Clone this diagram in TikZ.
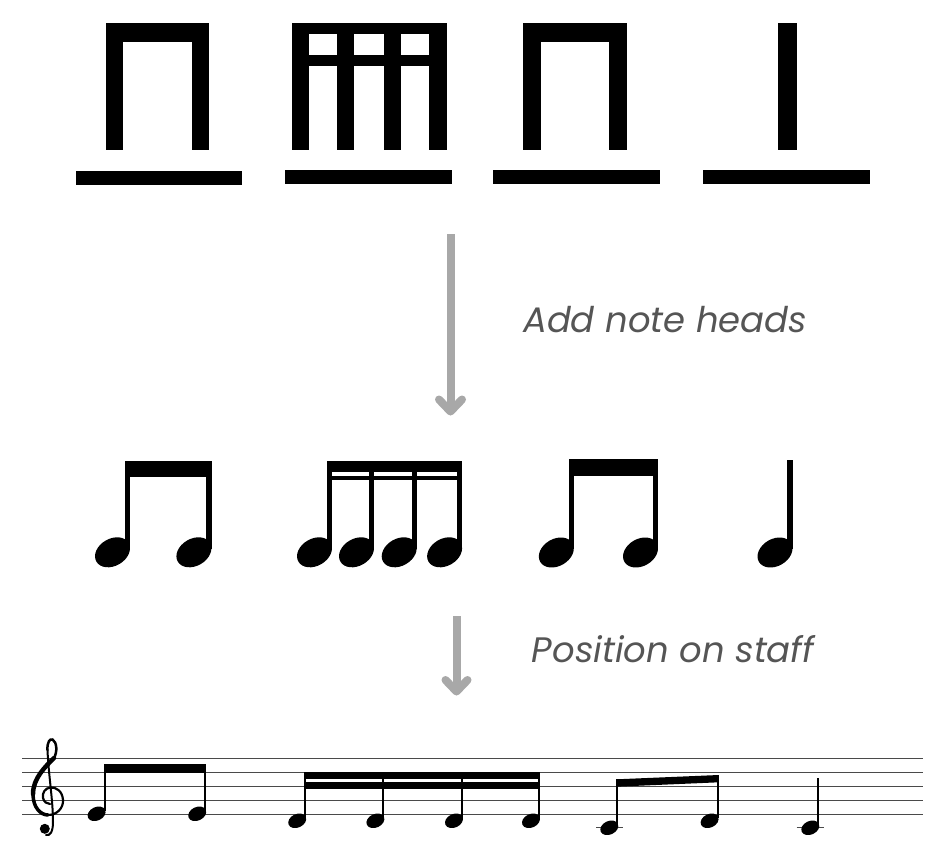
\documentclass[tikz,border=0pt]{standalone}
\usepackage{fontspec}
\newfontfamily\labfont{Poppins}
\definecolor{arrowgray}{HTML}{A8A8A8}
\definecolor{textgray}{HTML}{555555}
\definecolor{staffgray}{HTML}{4A4A4A}
\newcommand\bighead[2]{\fill[rotate around={30:(#1,#2)}] (#1,#2) ellipse [x radius=18.6pt, y radius=13.6pt];}
\newcommand\smallhead[2]{\fill[rotate around={25:(#1,#2)}] (#1,#2) ellipse [x radius=9.4pt, y radius=6.75pt];}
\begin{document}
\begin{tikzpicture}[x=1pt,y=-1pt,
  arrowshaft/.style={draw=arrowgray, line width=8pt},
  arrowtip/.style={draw=arrowgray, line width=8pt, line cap=round, line join=round},
  lab/.style={text=textgray, font=\labfont\itshape\fontsize{35.4}{42}\selectfont, anchor=base west, inner sep=0pt},
  staffline/.style={draw=staffgray, line width=1.3pt},
  clef/.style={draw=black, line cap=round}]
\useasboundingbox (0,0) rectangle (943,862);
\fill[white] (0,0) rectangle (943,862);

% ---------- top rhythm symbols ----------
% symbol 1
\fill (106,23.3) rectangle (123.3,150);
\fill (191.7,23.3) rectangle (209,150);
\fill (106,23.3) rectangle (209,41.7);
% symbol 2
\fill (291.7,23.3) rectangle (309.3,150);
\fill (336.7,23.3) rectangle (354,150);
\fill (384,23.3) rectangle (401,150);
\fill (429,23.3) rectangle (446.7,150);
\fill (291.7,23.3) rectangle (446.7,34.3);
\fill (291.7,55) rectangle (446.7,66);
% symbol 3
\fill (523.3,23.3) rectangle (541,150);
\fill (609.3,23.3) rectangle (626.7,150);
\fill (523.3,23.3) rectangle (626.7,41.7);
% symbol 4
\fill (777.7,23.3) rectangle (797,150);
% base bars
\fill (75.7,170.7) rectangle (242.3,185);
\fill (285,170) rectangle (451.7,184);
\fill (492.7,170) rectangle (660.3,184);
\fill (702.7,170) rectangle (870,184);

% ---------- arrow 1 ----------
\coordinate (a1s) at (450.5,234);
\coordinate (a1e) at (450.5,411.5);
\coordinate (a1l) at (439,399.5);
\coordinate (a1r) at (462,399.5);
\draw[arrowshaft] (a1s) -- (a1e);
\draw[arrowtip] (a1l) -- (a1e) -- (a1r);
\node[lab] (t1) at (523,332.3) {Add note heads};

% ---------- middle notes ----------
% group 1
\fill (125,460.7) rectangle (211.7,476.7);
\fill (125,460.7) rectangle (130,549);
\fill (206,460.7) rectangle (211.7,549);
\bighead{112.5}{552.3}
\bighead{193.9}{552.3}
% group 2
\fill (327.3,460.7) rectangle (462.3,472.3);
\fill (327.3,476) rectangle (462.3,480);
\fill (327.3,460.7) rectangle (332.3,549);
\fill (369,460.7) rectangle (374,549);
\fill (411.7,460.7) rectangle (416.7,549);
\fill (456.8,460.7) rectangle (462.3,549);
\bighead{314.5}{552.3}
\bighead{356.5}{552.3}
\bighead{399.2}{552.3}
\bighead{444.6}{552.3}
% group 3
\fill (569,459) rectangle (658.3,475.7);
\fill (569,459) rectangle (574,549);
\fill (652.7,459) rectangle (658.3,549);
\bighead{556.3}{552.5}
\bighead{640.5}{552.5}
% quarter
\fill (787.3,460) rectangle (792.7,549);
\bighead{775}{552.5}

% ---------- arrow 2 ----------
\coordinate (a2s) at (456.5,616);
\coordinate (a2e) at (456.5,691.5);
\coordinate (a2l) at (445.5,680);
\coordinate (a2r) at (467.5,680);
\draw[arrowshaft] (a2s) -- (a2e);
\draw[arrowtip] (a2l) -- (a2e) -- (a2r);
\node[lab] (t2) at (531.7,662.3) {Position on staff};

% ---------- staff ----------
\foreach \yy in {758.3,772.3,786.3,800.3,814.3}
  \draw[staffline] (22.3,\yy) -- (923.3,\yy);

% treble clef
\draw[clef, line width=2pt] (47.5,750) .. controls (48.5,775) and (53,800) .. (53,822)
   .. controls (53,832) and (50,836) .. (46,835);
\fill (44.8,828.8) circle (5pt);
\draw[clef, line width=2.5pt] (47.5,750) .. controls (47,742) and (50,738.5) .. (52.5,739.5)
   .. controls (57,742) and (57.5,752) .. (54,758);
\draw[clef, line width=4.5pt] (54,758) .. controls (46,766) and (33,778) .. (33,794);
\draw[clef, line width=3.5pt] (33,794) .. controls (33,808) and (41,815) .. (48,815);
\draw[clef, line width=2.2pt] (48,815) .. controls (57,815) and (63.5,808) .. (63,800)
   .. controls (62.5,791) and (56,787) .. (50.5,787.5)
   .. controls (45,788) and (42,793) .. (43,798) .. controls (44,802) and (47,804) .. (50,804);

% group 1 (E4 eighths)
\fill (104,764.3) rectangle (206,772.7);
\fill (104,764.3) rectangle (106,811);
\fill (204,764.3) rectangle (206,811);
\smallhead{96.6}{813.8}
\smallhead{197.2}{813.8}
% group 2 (D4 sixteenths)
\fill (304,772.3) rectangle (540,779.3);
\fill (304,782.3) rectangle (540,789.3);
\fill (304,772.3) rectangle (306,818);
\fill (382,772.3) rectangle (384,818);
\fill (461,772.3) rectangle (463,818);
\fill (538,772.3) rectangle (540,818);
\smallhead{297.2}{820.8}
\smallhead{375.4}{820.8}
\smallhead{454}{820.8}
\smallhead{531}{820.8}
% group 3 (C4, D4 eighths)
\draw[staffline] (596,827.7) -- (623.3,827.7);
\fill (616.3,779.3) -- (718.7,775) -- (718.7,782.3) -- (616.3,786.7) -- cycle;
\fill (616.3,779.3) rectangle (618.3,825);
\fill (716.7,775) rectangle (718.7,818);
\smallhead{609.3}{827.8}
\smallhead{709.6}{820.8}
% quarter C4
\draw[staffline] (796.7,827.7) -- (824,827.7);
\fill (817.3,778.3) rectangle (819.3,825);
\smallhead{810.3}{827.8}
\end{tikzpicture}
\end{document}
